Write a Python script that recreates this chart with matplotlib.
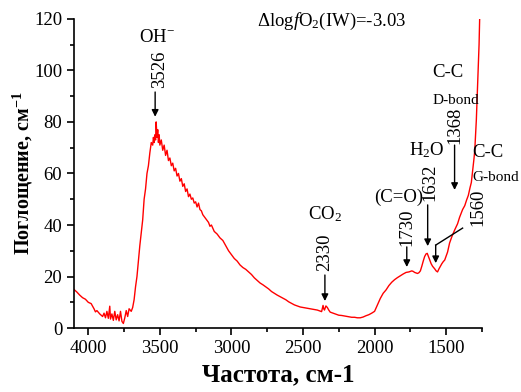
import matplotlib
matplotlib.use('Agg')
import matplotlib.pyplot as plt
from matplotlib.ticker import MultipleLocator

plt.rcParams['font.family'] = ['Liberation Serif', 'DejaVu Serif']
plt.rcParams['mathtext.fontset'] = 'custom'
plt.rcParams['mathtext.rm'] = 'Liberation Serif'
plt.rcParams['mathtext.it'] = 'Liberation Serif:italic'
plt.rcParams['mathtext.bf'] = 'Liberation Serif:bold'

# spectrum (wavenumber, absorption)
wavenumber = [4100, 4080, 4060, 4040, 4020, 4000, 3980, 3960, 3950, 3940, 3920, 3900, 3890, 3880,
              3870, 3860, 3850, 3845, 3835, 3825, 3815, 3805, 3795, 3785, 3775, 3765, 3755, 3745,
              3735, 3725, 3715, 3700, 3690, 3680, 3670, 3660, 3650, 3640, 3630, 3620, 3610, 3600,
              3590, 3580, 3570, 3560, 3550, 3545, 3540, 3535, 3530, 3526, 3520, 3515, 3510, 3505,
              3500, 3490, 3480, 3470, 3460, 3450, 3440, 3430, 3420, 3410, 3400, 3390, 3380, 3370,
              3360, 3350, 3340, 3330, 3320, 3310, 3300, 3290, 3280, 3270, 3260, 3250, 3240, 3230,
              3220, 3210, 3200, 3180, 3160, 3150, 3140, 3120, 3100, 3080, 3060, 3040, 3020, 3000,
              2980, 2960, 2940, 2920, 2900, 2880, 2860, 2840, 2820, 2800, 2780, 2760, 2740, 2720,
              2700, 2680, 2660, 2640, 2620, 2600, 2580, 2560, 2540, 2520, 2500, 2480, 2460, 2440,
              2420, 2400, 2380, 2370, 2360, 2355, 2350, 2340, 2330, 2320, 2310, 2290, 2270, 2250,
              2230, 2200, 2180, 2160, 2140, 2120, 2100, 2080, 2060, 2040, 2020, 2000, 1980, 1960,
              1940, 1920, 1900, 1880, 1860, 1840, 1820, 1800, 1780, 1760, 1740, 1730, 1720, 1700,
              1690, 1680, 1670, 1660, 1650, 1640, 1632, 1625, 1615, 1605, 1595, 1580, 1570, 1560,
              1550, 1540, 1530, 1520, 1510, 1500, 1490, 1476, 1460, 1441, 1420, 1406, 1385, 1370,
              1357, 1345, 1333, 1324, 1315, 1305, 1300, 1289, 1278, 1270, 1266, 1260]
absorption = [15, 14, 12.8, 11.8, 11.2, 10, 9.5, 7.5, 6.3, 6.8, 5.5, 4.5, 5.8, 4,
              6.5, 3.8, 8.5, 3.5, 5.5, 3, 6.5, 3.2, 5.2, 2.8, 6.5, 2.6, 1.8, 4,
              6.8, 4.5, 7.5, 6.5, 8, 11, 16, 20, 26, 32, 37, 42, 50, 54,
              60, 63, 68, 72, 71, 74, 72, 75, 73, 80, 74, 77, 72, 75,
              71, 73, 69, 71, 67, 69, 65, 66, 63, 64, 61, 62, 59, 60,
              57, 58, 55, 56, 53, 54, 51, 52, 50, 50.5, 48.5, 49, 47, 48.5,
              46, 45.5, 44, 42.5, 41, 39.5, 40, 37.5, 36.5, 35, 34, 32, 30, 28.5,
              27, 26, 24.5, 23.5, 22.8, 21.8, 20.8, 19.5, 18.5, 17.5, 16.8, 16, 15.2, 14.2,
              13.5, 12.8, 12.2, 11.6, 11, 10.2, 9.6, 9, 8.6, 8.2, 8, 7.8, 7.6, 7.4,
              7.2, 7, 6.6, 6.4, 8.8, 7.5, 7, 8.6, 8, 7, 6.2, 5.8, 5.4, 5,
              4.9, 4.6, 4.4, 4.2, 4.2, 4, 4, 4.3, 4.8, 5.2, 5.8, 6.5, 9, 11.5,
              13.5, 14.8, 16.5, 17.8, 18.8, 19.6, 20.3, 21, 21.6, 21.8, 22.2, 22, 21.6, 21.2,
              21.5, 22.2, 24, 26, 27.8, 28.8, 29, 28, 26.5, 25, 24, 23, 22.2, 21.8,
              23, 24, 25, 25.8, 26.4, 28, 29.5, 33, 35.5, 38, 40.5, 43, 46, 47.5,
              49.7, 51.5, 54.5, 56.5, 61, 66, 69, 80.8, 97.6, 110, 119.6, 128]

x_ticks = [4000, 3500, 3000, 2500, 2000, 1500]
y_ticks = [0, 20, 40, 60, 80, 100, 120]

fig = plt.figure(figsize=(5.21, 3.92), dpi=100)
ax = fig.add_axes([0.142, 0.163, 0.783, 0.789])

ax.plot(wavenumber, absorption, color='#ff0000', lw=1)

ax.set_xlim(4100, 1250)
ax.set_ylim(0, 120)
ax.set_xticks(x_ticks)
ax.set_yticks(y_ticks)
ax.xaxis.set_minor_locator(MultipleLocator(250))
ax.yaxis.set_minor_locator(MultipleLocator(10))
ax.spines['top'].set_visible(False)
ax.spines['right'].set_visible(False)
for s in ('left', 'bottom'):
    ax.spines[s].set_linewidth(1.2)
ax.tick_params(which='major', direction='out', length=5, width=1.2, labelsize=13.5)
ax.tick_params(which='minor', direction='out', length=3, width=1.2)

ax.set_xlabel('Частота, см-1', fontsize=18, fontweight='bold')
ax.set_ylabel(r'Поглощение, см$^{\mathbf{-1}}$', fontsize=14.5, fontweight='bold')
ax.xaxis.set_label_coords(0.5, -0.115)
ax.yaxis.set_label_coords(-0.095, 0.5)

arrow = dict(arrowstyle='-|>', color='k', lw=1, mutation_scale=10, shrinkA=0, shrinkB=0)
fs = 13.5

# OH peak
ax.text(3519, 112.6, r'OH$^{-}$', fontsize=fs, ha='center', va='center')
ax.text(3505, 100.6, '3526', fontsize=fs, rotation=90, ha='center', va='center')
ax.annotate('', xy=(3533, 82), xytext=(3533, 91.6), arrowprops=arrow)

# CO2
ax.text(2347, 44.3, r'CO$_2$', fontsize=fs, ha='center', va='center')
ax.text(2347, 29.5, '2330', fontsize=fs, rotation=90, ha='center', va='center')
ax.annotate('', xy=(2347, 10.5), xytext=(2347, 20.6), arrowprops=arrow)

# C=O
ax.text(1831, 50.9, '(C=O)', fontsize=fs, ha='center', va='center')
ax.text(1775, 39.2, '1730', fontsize=fs, rotation=90, ha='center', va='center')
ax.annotate('', xy=(1775, 23.7), xytext=(1775, 31.5), arrowprops=arrow)

# H2O
ax.text(1636, 69, r'H$_2$O', fontsize=fs, ha='center', va='center')
ax.text(1615, 56.7, '1632', fontsize=fs, rotation=90, ha='center', va='center')
ax.annotate('', xy=(1629, 31.8), xytext=(1629, 47.8), arrowprops=arrow)

# C-C D-bond
ax.text(1594, 99, 'C-C', fontsize=fs, ha='left', va='center')
ax.text(1594, 88.5, 'D-bond', fontsize=11, ha='left', va='center')
ax.text(1441, 78.8, '1368', fontsize=fs, rotation=90, ha='center', va='center')
ax.annotate('', xy=(1441, 53.6), xytext=(1441, 71), arrowprops=arrow)

# C-C G-bond
ax.text(1315, 68.3, 'C-C', fontsize=fs, ha='left', va='center')
ax.text(1315, 58.6, 'G-bond', fontsize=11, ha='left', va='center')
ax.text(1280, 47, '1560', fontsize=fs, rotation=90, ha='center', va='center')
ax.plot([1385, 1573], [38.8, 32.2], color='k', lw=1)
ax.annotate('', xy=(1573, 25.2), xytext=(1573, 32.2), arrowprops=arrow)

ax.text(2821, 118.8, r'$\Delta$log$\it{f}$O$_2$(IW)=-3.03', fontsize=fs, ha='left', va='center')

fig.savefig('out.png', dpi=100)
